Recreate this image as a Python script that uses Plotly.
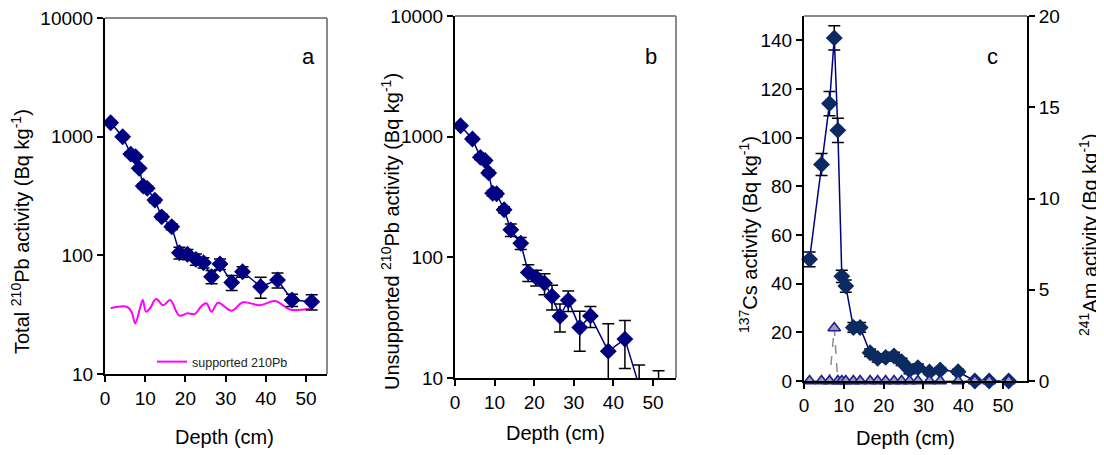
import plotly.graph_objects as go

# ---------------- data ----------------
depth = [1.4, 4.4, 6.4, 7.6, 8.5, 9.5, 10.5, 12.4, 14.1, 16.6, 18.5, 20.5,
         22.6, 24.5, 26.5, 28.6, 31.5, 34.2, 38.7, 42.9, 46.5, 51.4]
total_pb = [1310, 998, 713, 677, 541, 384, 367, 292, 211, 174, 105, 102,
            92.5, 86.7, 66, 84.5, 59, 72.8, 54.4, 62, 42, 40.6]
total_pb_err = [45, 35, 28, 26, 22, 18, 17, 14, 11, 10, 12, 10,
                10, 8.5, 8.5, 8.5, 8.5, 7.5, 11, 9, 5, 6]

supp_depth = [1.4, 5.4, 6.6, 7.5, 8.7, 9.4, 10.2, 11.2, 12.7, 14.5, 16.2, 18.5,
              20.5, 22.3, 24.0, 25.2, 26.5, 28.1, 31.5, 34.3, 38.5, 42.3, 46.0, 49.4, 51.6]
supp_pb = [35.8, 36.9, 33.5, 26.7, 35.8, 42, 33.5, 35.8, 42.8, 38, 42, 31,
           32.5, 32, 37.4, 39.5, 33.5, 39.9, 34.1, 40.2, 38, 41.2, 35, 35, 35.8]

unsup_pb = [1233, 957, 674, 634, 501, 340, 336, 248, 169, 131, 75, 68,
            61, 47.6, 32.5, 44, 26.2, 32.7, 16.7, 21, 8.6, 5]
unsup_err = [40, 35, 30, 30, 25, 18, 18, 15, 20, 15, 12, 10,
             12, 11, 8.5, 8.5, 9.5, 6.5, 11.5, 9, 4.2, 6.5]

cs137 = [50, 89, 114, 141, 103, 43, 39, 22, 22, 11.6, 9.3, 9.7,
         10.3, 7.9, 4.5, 5.5, 3.7, 4.5, 3.8, 0, 0, 0]
cs137_err = [3, 4.5, 5, 5, 5, 2.5, 2.5, 2, 2, 1.5, 1.5, 1.5,
             1.5, 1.5, 1.5, 1.5, 1, 1, 1, 0.5, 0.5, 0.5]
am241 = [0, 0, 0, 2.9, 0, 0, 0, 0, 0, 0, 0, 0,
         0, 0, 0, 0, 0, 0, 0, 0, 0, 0]

x_ticks = [0, 10, 20, 30, 40, 50]
log_ticks = [10, 100, 1000, 10000]
log_tick_labels = ["10", "100", "1000", "10000"]
cs_ticks = [0, 20, 40, 60, 80, 100, 120, 140]
am_ticks = [0, 5, 10, 15, 20]

# ---------------- styling ----------------
PAGE_W, PAGE_H = 1104, 455
OFF = 8                      # default page margin around the figure
W, H = PAGE_W - OFF, PAGE_H - OFF
FONT = "Liberation Sans, Arial, sans-serif"
NAVY = "#000080"
DARKNAVY = "#0b2a62"

def px(x):
    return (x - OFF) / W

def py(y):
    return 1 - (y - OFF) / H

err_style = dict(type="data", color="black", thickness=1.5, width=6)

fig = go.Figure()

# panel a
fig.add_trace(go.Scatter(
    x=supp_depth, y=supp_pb, mode="lines", name="supported 210Pb",
    line=dict(color="#ff00ff", width=2, shape="spline"),
    xaxis="x", yaxis="y", showlegend=True))
fig.add_trace(go.Scatter(
    x=depth, y=total_pb, mode="lines+markers", name="Total 210Pb",
    line=dict(color=NAVY, width=1.5),
    marker=dict(symbol="diamond", size=13, color=NAVY),
    error_y=dict(array=total_pb_err, **err_style),
    xaxis="x", yaxis="y", showlegend=False))

# panel b
unsup_err_minus = [min(e, 0.8 * v) for e, v in zip(unsup_err, unsup_pb)]
fig.add_trace(go.Scatter(
    x=depth, y=unsup_pb, mode="lines+markers", name="Unsupported 210Pb",
    line=dict(color=NAVY, width=1.5),
    marker=dict(symbol="diamond", size=13, color=NAVY),
    error_y=dict(array=unsup_err, arrayminus=unsup_err_minus, symmetric=False, **err_style),
    xaxis="x2", yaxis="y2", showlegend=False))

# panel c
fig.add_trace(go.Scatter(
    x=depth, y=cs137, mode="lines+markers", name="137Cs",
    line=dict(color=NAVY, width=1.5),
    marker=dict(symbol="diamond", size=13, color=DARKNAVY),
    error_y=dict(array=cs137_err, **err_style),
    cliponaxis=False,
    xaxis="x3", yaxis="y3", showlegend=False))
fig.add_trace(go.Scatter(
    x=depth, y=am241, mode="lines+markers", name="241Am",
    line=dict(color="#8c8c8c", width=1.5, dash="dash"),
    marker=dict(symbol="triangle-up", size=11, color="#9d9db5",
                line=dict(color="#1c1c96", width=1.5)),
    cliponaxis=False,
    xaxis="x3", yaxis="y4", showlegend=False))

tickfont = dict(family=FONT, size=19, color="black")
axis_common = dict(showline=True, linecolor="black", linewidth=2, ticks="outside",
                   tickcolor="black", tickwidth=1.5, ticklen=6, showgrid=False,
                   zeroline=False, tickfont=tickfont, automargin=False,
                   ticklabeloverflow="allow")

fig.update_layout(
    template="none",
    width=W, height=H,
    margin=dict(l=0, r=0, t=0, b=0, pad=0),
    paper_bgcolor="white", plot_bgcolor="white",
    font=dict(family=FONT, color="black"),
    xaxis=dict(domain=[px(105), px(327)], range=[0, 55.2], tickvals=x_ticks, anchor="y", **axis_common),
    yaxis=dict(domain=[py(374), py(18)], type="log", range=[1, 4], tickvals=log_ticks,
               ticktext=log_tick_labels, anchor="x", **axis_common),
    xaxis2=dict(domain=[px(455), px(676)], range=[0, 55.8], tickvals=x_ticks, anchor="y2", **axis_common),
    yaxis2=dict(domain=[py(378), py(16)], type="log", range=[1, 4], tickvals=log_ticks,
                ticktext=log_tick_labels, anchor="x2", **axis_common),
    xaxis3=dict(domain=[px(804), px(1027)], range=[0, 56], tickvals=x_ticks, anchor="y3", **axis_common),
    yaxis3=dict(domain=[py(381), py(16)], range=[0, 150], tickvals=cs_ticks, anchor="x3", **axis_common),
    yaxis4=dict(overlaying="y3", side="right", anchor="x3", range=[0, 20], tickvals=am_ticks,
                **axis_common),
    legend=dict(x=px(152), y=py(362), xanchor="left", yanchor="middle",
                bgcolor="rgba(0,0,0,0)", font=dict(family=FONT, size=12.5, color="#222222")),
)

# gray frame lines (top / right) of the plot areas
gray = dict(color="#8a8a8a", width=2)
for xr, yr in [("x", "y"), ("x2", "y2")]:
    fig.add_shape(type="line", xref=f"{xr} domain", yref=f"{yr} domain",
                  x0=0, x1=1, y0=1, y1=1, line=gray)
    fig.add_shape(type="line", xref=f"{xr} domain", yref=f"{yr} domain",
                  x0=1, x1=1, y0=0, y1=1, line=gray)
fig.add_shape(type="line", xref="x3 domain", yref="y3 domain",
              x0=0, x1=1, y0=1, y1=1, line=gray)

title_font = dict(family=FONT, size=20, color="black")
annots = [
    dict(text="a", x=px(300), y=py(42)),
    dict(text="b", x=px(651), y=py(42)),
    dict(text="c", x=px(1000), y=py(42)),
]
for a in annots:
    fig.add_annotation(xref="paper", yref="paper", showarrow=False,
                       font=dict(family=FONT, size=22, color="black"), **a)

titles = [
    dict(text="Depth (cm)", x=px(224), y=py(437), textangle=0),
    dict(text="Depth (cm)", x=px(555), y=py(433), textangle=0),
    dict(text="Depth (cm)", x=px(905), y=py(438), textangle=0),
    dict(text="Total <sup>210</sup>Pb activity (Bq kg<sup>-1</sup>)", x=px(20), y=py(232), textangle=-90),
    dict(text="Unsupported <sup>210</sup>Pb activity (Bq kg<sup>-1</sup>)", x=px(390), y=py(232), textangle=-90),
    dict(text="<sup>137</sup>Cs activity (Bq kg<sup>-1</sup>)", x=px(748), y=py(235), textangle=-90),
    dict(text="<sup>241</sup>Am activity (Bq kg<sup>-1</sup>)", x=px(1088), y=py(235), textangle=-90),
]
for t in titles:
    fig.add_annotation(xref="paper", yref="paper", showarrow=False,
                       xanchor="center", yanchor="middle", font=title_font, **t)

fig.write_html("out.html")
